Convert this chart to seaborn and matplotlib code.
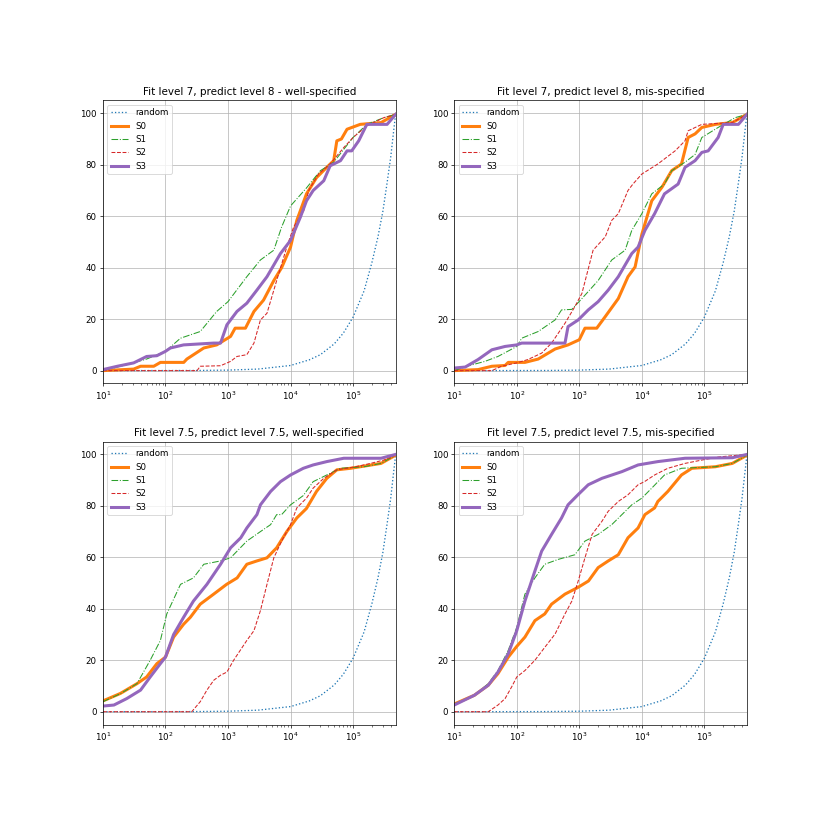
import numpy as np
import pandas as pd
import seaborn as sns
import matplotlib.pyplot as plt

# random baseline (same in every panel)
rand_x = [10, 300, 1000, 3000, 1e4, 2e4, 3e4, 5e4, 7e4, 1e5, 1.5e5, 2e5, 2.5e5, 3e5, 3.5e5, 4e5, 4.4e5, 4.8e5]
rand_y = [0, 0.06, 0.2, 0.6, 2, 4.2, 6.2, 10.4, 14.6, 20.8, 31, 42, 52, 62, 73, 83, 92, 100]

# top-left: fit 7, predict 8, well-specified
tl_s0_x = [10, 31, 40, 65, 83, 196, 220, 410, 660, 1100, 1300, 1900, 2600, 3700, 5400, 7200, 1e4, 12600, 18000, 26000, 38000, 49000, 55000, 65000, 80000, 130000, 280000, 4.8e5]
tl_s0_y = [0, 0.6, 1.7, 1.7, 3.2, 3.2, 4.5, 8.8, 10, 13.3, 16.5, 16.5, 23, 27.4, 35, 40, 48, 58.4, 68.7, 75, 79, 81.6, 89.3, 90, 93.8, 95.7, 96.4, 99.6]
tl_s1_x = [10, 24, 50, 100, 174, 360, 660, 1000, 2000, 3300, 5400, 7200, 1e4, 18000, 30000, 49000, 71000, 1e5, 166000, 310000, 4.8e5]
tl_s1_y = [0, 2.3, 4.5, 7.5, 12.6, 15.2, 23, 26.8, 36.5, 43, 46.8, 55.8, 64, 71, 77.7, 81, 86, 90.6, 95.7, 98.3, 99.6]
tl_s2_x = [10, 320, 360, 760, 1100, 1390, 2000, 2600, 3300, 4200, 6000, 8700, 11200, 16200, 19500, 28000, 43000, 71000, 1e5, 166000, 310000, 4.8e5]
tl_s2_y = [0, 0, 1.7, 1.9, 3.6, 5.5, 6.2, 10.7, 19.7, 22.3, 35, 48, 55.8, 62, 70, 76.4, 80.3, 86.7, 90.6, 95.1, 98.3, 99.6]
tl_s3_x = [10, 17, 31, 50, 73, 100, 120, 195, 590, 760, 960, 1390, 2000, 2900, 4200, 6900, 1e4, 14400, 18000, 23000, 34000, 43000, 63000, 80000, 95000, 123000, 166000, 350000, 4.8e5]
tl_s3_y = [0.4, 1.7, 3, 5.5, 5.8, 7.5, 8.8, 10, 10.7, 10.7, 17.8, 23, 26.2, 31.3, 36.5, 45.5, 50.6, 59.7, 66, 70, 73.8, 79.6, 81.6, 85.4, 85.4, 89.3, 95.7, 95.7, 99.6]

# top-right: fit 7, predict 8, mis-specified
tr_s0_x = [10, 24, 40, 65, 73, 135, 220, 410, 660, 1000, 1230, 1900, 2600, 4200, 6000, 7800, 1e4, 14400, 21000, 30000, 43000, 55000, 71000, 91000, 150000, 280000, 4.8e5]
tr_s0_y = [0, 0.4, 1.7, 2, 3.2, 3.2, 4.5, 8.4, 10, 12, 16.5, 16.5, 21, 28, 36.5, 40.3, 53, 66, 71.3, 77.7, 80.3, 90.6, 92, 94.5, 95.7, 96.4, 99.6]
tr_s1_x = [10, 17, 31, 50, 100, 120, 220, 410, 520, 760, 1100, 2000, 3300, 5400, 6900, 1e4, 14400, 23000, 30000, 49000, 71000, 91000, 166000, 310000, 4.8e5]
tr_s1_y = [0, 1.9, 3.6, 5.5, 9.4, 12.6, 15.2, 19.7, 23.6, 23.8, 28, 35, 43, 46.8, 54.5, 61, 68.7, 72.5, 77.7, 81, 84, 90.6, 94.5, 98.3, 99.6]
tr_s2_x = [10, 40, 57, 100, 150, 250, 360, 590, 850, 1100, 1660, 2600, 3300, 4200, 6000, 7200, 1e4, 18000, 34000, 49000, 55000, 91000, 280000, 4.8e5]
tr_s2_y = [0, 0, 1.7, 3, 4.3, 6.8, 10.7, 18.4, 24.9, 30, 46.8, 52, 58.4, 61, 70, 72.5, 76.4, 80.3, 85.4, 89.3, 93.2, 95.7, 96.4, 99.6]
tr_s3_x = [10, 15, 24, 40, 65, 100, 120, 590, 660, 960, 1390, 2000, 2900, 4200, 6900, 8700, 11200, 16000, 23000, 38000, 49000, 71000, 91000, 115000, 166000, 200000, 350000, 4.8e5]
tr_s3_y = [1, 1.4, 4.3, 8.1, 9.4, 10, 10.7, 10.7, 17.1, 19.7, 23.6, 26.8, 31.3, 36.5, 45.5, 48, 54.5, 61, 68.7, 72.5, 79, 81.6, 84.8, 85.4, 90.6, 95.7, 95.7, 99.6]

# bottom-left: fit 7.5, predict 7.5, well-specified
bl_s0_x = [10, 19, 35, 50, 73, 100, 135, 195, 250, 360, 590, 950, 1400, 2000, 2900, 4200, 6000, 8700, 12600, 18000, 26000, 38000, 55000, 91000, 280000, 4.8e5]
bl_s0_y = [4.2, 7.1, 10.9, 13.5, 18.7, 21.2, 29, 34, 36.7, 41.8, 45.7, 49.5, 52, 57.3, 58.6, 59.8, 63.7, 70, 75.3, 79, 85.6, 90.7, 94, 94.6, 96.5, 99.7]
bl_s1_x = [10, 19, 35, 57, 83, 105, 174, 280, 410, 760, 1100, 2000, 3300, 4800, 6000, 7200, 1e4, 16000, 23000, 38000, 63000, 150000, 280000, 4.8e5]
bl_s1_y = [3.9, 7, 10.9, 20, 27.7, 38, 49.5, 52, 57.3, 58.6, 59.8, 66.3, 70, 72.7, 76.6, 76.6, 80.4, 84, 89.4, 92, 94.6, 95.2, 96.5, 99.7]
bl_s2_x = [10, 263, 360, 460, 590, 760, 960, 1230, 2000, 2600, 3300, 4200, 5400, 7200, 1e4, 12600, 18000, 23000, 34000, 55000, 110000, 190000, 310000, 4.8e5]
bl_s2_y = [0, 0, 3.9, 8.4, 12.2, 14.2, 15.4, 20, 27.7, 31.5, 39.3, 49.5, 59.8, 66.3, 72.7, 79.2, 83, 86.9, 90.7, 94, 95.2, 96.5, 97.8, 99.7]
bl_s3_x = [10, 15, 24, 40, 57, 83, 100, 135, 195, 280, 460, 760, 1100, 1600, 2000, 2900, 3300, 4800, 6900, 1e4, 16000, 23000, 38000, 71000, 280000, 4.8e5]
bl_s3_y = [2.2, 2.6, 5.1, 8.4, 13.5, 18.7, 21.2, 30, 36.7, 43, 49.5, 57.3, 63.7, 67.6, 71.4, 76.6, 80.4, 85.6, 89.4, 92, 94.6, 95.9, 97.2, 98.5, 98.5, 100]

# bottom-right: fit 7.5, predict 7.5, mis-specified
br_s0_x = [10, 21, 35, 50, 73, 100, 135, 195, 280, 360, 590, 950, 1400, 2000, 2900, 4200, 6000, 8700, 11200, 16000, 18000, 26000, 43000, 63000, 150000, 280000, 4.8e5]
br_s0_y = [3, 6.4, 10.3, 14.8, 21.2, 25.4, 29, 35.4, 38, 41.8, 45.7, 48.3, 50.8, 56, 58.6, 61, 67.6, 71.4, 76.6, 79.2, 81.7, 85.6, 92, 94.6, 95.2, 96.5, 99.7]
br_s1_x = [10, 21, 35, 50, 73, 100, 135, 195, 280, 460, 850, 1230, 2000, 3300, 4800, 6900, 1e4, 14400, 23000, 43000, 150000, 280000, 4.8e5]
br_s1_y = [3, 6.4, 10.9, 16, 23.8, 32.8, 45.7, 52, 57.3, 59.2, 61, 66.3, 68.9, 72.7, 76.6, 80.4, 83, 86.9, 92, 94.6, 95.2, 96.5, 99.7]
br_s2_x = [10, 35, 50, 65, 83, 100, 135, 195, 280, 410, 590, 760, 960, 1230, 1600, 2300, 2900, 4200, 6000, 8700, 11000, 16000, 26000, 49000, 91000, 170000, 4.8e5]
br_s2_y = [0, 0, 2.6, 5.1, 9.7, 13.5, 16, 20, 25, 30.2, 38, 43, 50.8, 59.8, 68.9, 74, 77.9, 81.7, 84.3, 88.2, 89.4, 92, 94.6, 96.5, 97.8, 99, 100]
br_s3_x = [10, 21, 35, 50, 73, 100, 135, 195, 250, 360, 520, 660, 950, 1390, 2300, 4800, 8700, 18000, 49000, 280000, 4.8e5]
br_s3_y = [2.6, 6.4, 10.3, 15.4, 22.5, 31.5, 43, 54.7, 62.4, 68.9, 75.3, 80.4, 84.3, 88.2, 90.7, 93.3, 95.9, 97.2, 98.5, 98.7, 100]

titles = ["Fit level 7, predict level 8 - well-specified",
          "Fit level 7, predict level 8, mis-specified",
          "Fit level 7.5, predict level 7.5, well-specified",
          "Fit level 7.5, predict level 7.5, mis-specified"]

panels = [
    [(tl_s0_x, tl_s0_y), (tl_s1_x, tl_s1_y), (tl_s2_x, tl_s2_y), (tl_s3_x, tl_s3_y)],
    [(tr_s0_x, tr_s0_y), (tr_s1_x, tr_s1_y), (tr_s2_x, tr_s2_y), (tr_s3_x, tr_s3_y)],
    [(bl_s0_x, bl_s0_y), (bl_s1_x, bl_s1_y), (bl_s2_x, bl_s2_y), (bl_s3_x, bl_s3_y)],
    [(br_s0_x, br_s0_y), (br_s1_x, br_s1_y), (br_s2_x, br_s2_y), (br_s3_x, br_s3_y)],
]

names = ["S0", "S1", "S2", "S3"]
colors = ["C1", "C2", "C3", "C4"]
styles = ["-", "-.", "--", "-"]
widths = [3.5, 1.2, 1.2, 3.5]

fig, axes = plt.subplots(2, 2, figsize=(13.28, 13.28), dpi=62.5)
fig.subplots_adjust(left=0.124, right=0.9, bottom=0.127, top=0.879, wspace=0.2, hspace=0.205)

for ax, title, series in zip(axes.flat, titles, panels):
    sns.lineplot(x=rand_x, y=rand_y, ax=ax, color="C0", linestyle=":", linewidth=1.5, label="random")
    for (xs, ys), name, c, ls, lw in zip(series, names, colors, styles, widths):
        sns.lineplot(x=xs, y=ys, ax=ax, color=c, linestyle=ls, linewidth=lw, label=name)
    ax.set_xscale("log")
    ax.set_xlim(10, 4.8e5)
    ax.set_ylim(-5, 105)
    ax.grid(True)
    ax.set_title(title)
    ax.legend(loc="upper left")

fig.savefig("out.png", dpi=62.5)
